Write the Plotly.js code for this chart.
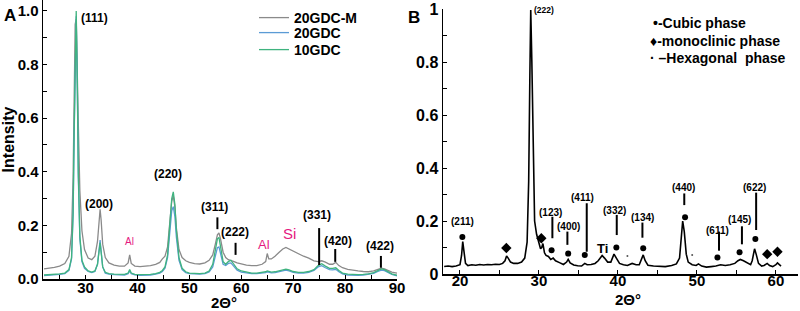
<!DOCTYPE html>
<html>
<head>
<meta charset="utf-8">
<script src="https://cdn.plot.ly/plotly-3.0.1.min.js"></script>
<style>html,body{margin:0;padding:0;background:#fff;}#chart{width:800px;height:311px;}</style>
</head>
<body>
<div id="chart"></div>
<script>
// ---------- Panel A data (2θ in degrees, normalised intensity) ----------
var twoThetaA = [22,23,24,25,26,26.8,27.3,27.6,27.8,28.0,28.2,28.4,28.6,28.9,29.3,29.8,30.5,31.2,31.8,32.3,32.6,32.8,33.0,33.3,33.8,34.5,35.5,36.5,37.5,38.2,38.5,38.8,39.5,40.5,41.5,42.5,43.5,44.3,44.8,45.3,45.8,46.3,46.6,46.9,47.2,47.5,48.0,48.6,49.3,50,51,52,53,53.8,54.5,55.0,55.4,55.7,56.0,56.5,57.0,57.5,58.0,58.5,59.2,60,61,62,63,64,64.7,65.0,65.3,65.8,66.5,67.3,68.0,68.6,69.2,70,71,72,73,74,74.8,75.5,76.2,77,77.6,78.2,78.8,79.5,80.5,81.5,82.5,83.5,84.5,85.5,86.3,87.0,87.6,88.3,89,90];

var gdc20M = [0.038,0.040,0.043,0.048,0.058,0.085,0.170,0.380,0.680,0.950,0.970,0.820,0.580,0.330,0.180,0.110,0.078,0.072,0.085,0.140,0.230,0.260,0.220,0.130,0.080,0.060,0.052,0.048,0.048,0.060,0.090,0.058,0.048,0.046,0.048,0.050,0.055,0.062,0.075,0.085,0.120,0.220,0.290,0.310,0.270,0.190,0.110,0.080,0.068,0.062,0.057,0.056,0.060,0.070,0.090,0.130,0.165,0.172,0.150,0.100,0.080,0.072,0.070,0.066,0.060,0.056,0.052,0.050,0.050,0.055,0.065,0.095,0.075,0.075,0.085,0.100,0.112,0.118,0.112,0.105,0.095,0.085,0.078,0.068,0.065,0.068,0.063,0.055,0.055,0.062,0.050,0.042,0.036,0.032,0.030,0.028,0.027,0.030,0.035,0.040,0.038,0.032,0.026,0.022];

var gdc20 = [0.013,0.014,0.015,0.017,0.020,0.032,0.075,0.240,0.530,0.860,0.980,0.730,0.380,0.150,0.065,0.040,0.028,0.024,0.028,0.055,0.120,0.145,0.105,0.045,0.022,0.018,0.016,0.015,0.015,0.020,0.030,0.020,0.015,0.014,0.014,0.015,0.018,0.022,0.028,0.040,0.080,0.190,0.255,0.270,0.235,0.155,0.070,0.035,0.024,0.020,0.018,0.018,0.020,0.026,0.045,0.090,0.117,0.120,0.095,0.055,0.050,0.058,0.060,0.050,0.033,0.026,0.022,0.020,0.020,0.021,0.024,0.027,0.025,0.023,0.024,0.027,0.031,0.033,0.030,0.025,0.022,0.022,0.025,0.032,0.045,0.050,0.042,0.035,0.034,0.036,0.027,0.019,0.015,0.014,0.014,0.015,0.017,0.021,0.028,0.033,0.031,0.024,0.017,0.012];

var gdc10 = [0.015,0.016,0.017,0.019,0.022,0.035,0.080,0.250,0.550,0.880,1.000,0.750,0.400,0.160,0.070,0.045,0.030,0.026,0.030,0.055,0.110,0.135,0.100,0.045,0.025,0.020,0.018,0.017,0.017,0.022,0.035,0.022,0.017,0.016,0.016,0.017,0.020,0.025,0.032,0.045,0.090,0.220,0.300,0.325,0.280,0.180,0.080,0.040,0.027,0.022,0.020,0.020,0.022,0.030,0.055,0.110,0.150,0.155,0.120,0.065,0.055,0.065,0.070,0.058,0.038,0.030,0.025,0.022,0.022,0.024,0.027,0.030,0.028,0.026,0.027,0.030,0.035,0.037,0.034,0.028,0.025,0.025,0.028,0.035,0.050,0.057,0.048,0.040,0.040,0.042,0.032,0.022,0.018,0.016,0.016,0.017,0.019,0.024,0.032,0.038,0.035,0.027,0.019,0.014];

var seriesNamesA = ["20GDC-M", "20GDC", "10GDC"];

// ---------- Panel B data ----------
var twoThetaB = [18.0,18.5,19.0,19.5,20.0,20.2,20.35,20.5,20.7,21.0,21.5,22.0,22.5,23.0,23.5,24.0,24.5,25.0,25.4,25.7,25.9,26.1,26.4,26.8,27.3,27.8,28.2,28.5,28.7,28.85,28.96,29.1,29.25,29.45,29.7,29.95,30.2,30.35,30.5,30.7,30.9,31.2,31.5,31.8,32.1,32.6,33.1,33.5,33.7,33.95,34.4,34.9,35.4,35.8,36.1,36.6,37.1,37.5,38.0,38.3,38.7,39.1,39.5,39.8,40.2,40.7,41.2,41.8,42.3,42.7,43.0,43.2,43.45,43.8,44.5,45.2,46.0,46.8,47.4,47.8,48.0,48.2,48.4,48.65,48.9,49.4,49.9,50.2,50.6,51.2,51.8,52.4,53.0,53.6,54.2,54.8,55.2,55.5,55.9,56.4,56.8,57.0,57.3,57.5,57.8,58.2,58.5,58.9,59.2,59.6,60.0,60.2,60.4,60.65];
var intensityB = [0.028,0.030,0.028,0.030,0.035,0.070,0.122,0.080,0.040,0.032,0.035,0.033,0.036,0.034,0.036,0.035,0.037,0.036,0.040,0.050,0.068,0.060,0.045,0.040,0.040,0.045,0.060,0.120,0.350,0.750,0.996,0.800,0.450,0.200,0.150,0.120,0.095,0.100,0.115,0.080,0.070,0.066,0.055,0.060,0.050,0.043,0.036,0.045,0.055,0.042,0.034,0.031,0.030,0.040,0.035,0.036,0.040,0.050,0.070,0.060,0.045,0.045,0.075,0.060,0.040,0.035,0.032,0.040,0.035,0.035,0.055,0.072,0.050,0.033,0.030,0.028,0.028,0.032,0.038,0.060,0.130,0.200,0.160,0.075,0.045,0.035,0.032,0.038,0.030,0.026,0.028,0.030,0.035,0.032,0.035,0.040,0.050,0.055,0.050,0.040,0.035,0.050,0.095,0.075,0.040,0.030,0.032,0.040,0.032,0.028,0.035,0.042,0.036,0.030];

// phase markers in panel B
var cubicX = [20.3,29.0,31.6,33.7,35.8,39.8,43.2,48.5,52.6,55.4,57.4];
var cubicY = [0.14,1.02,0.09,0.077,0.072,0.10,0.097,0.214,0.062,0.082,0.132];
var monoX = [25.87,30.3,58.9,60.2];
var monoY = [0.098,0.135,0.075,0.084];
var hexX = [41.2,49.4];
var hexY = [0.068,0.072];

// peak labels
var labelsA = ["(111)","(200)","(220)","(311)","(222)","(331)","(420)","(422)"];
var labelsAx = [31.7,32.6,45.8,54.8,58.7,74.6,78.7,86.7];
var labelsAy = [0.975,0.28,0.39,0.27,0.175,0.24,0.14,0.123];
var markA = [[55.4,0.186,0.23],[58.9,0.09,0.135],[75.0,0.052,0.19],[78.1,0.064,0.112],[86.9,0.042,0.086]];
var impA = [["Al",38.5,0.14,10],["Al",64.4,0.127,13],["Si",69.2,0.17,15]];

var labelsB = ["(211)","(222)","(123)","(400)","(411)","(332)","(134)","(440)","(611)","(145)","(622)"];
var labelsBx = [20.3,30.65,31.5,33.7,35.5,39.6,43.1,48.3,52.6,55.4,57.3];
var labelsBy = [0.197,0.996,0.233,0.178,0.288,0.239,0.215,0.327,0.163,0.204,0.326];
var markB = [[31.7,0.135,0.216],[33.6,0.11,0.16],[36.05,0.084,0.267],[39.85,0.147,0.223],[43.1,0.137,0.194],[48.4,0.26,0.304],[52.8,0.088,0.16],[55.7,0.112,0.18],[57.5,0.166,0.307]];

var FONT = "Liberation Sans, Arial, Helvetica, sans-serif";
var PINK = "#e5197f";
var COLORS_A = ["#8a8a8a", "#5b9bd5", "#3fb37f"];

// paper helpers (plot area: 43..798 px horizontally, 0..279 px vertically)
function px(p) { return (p - 43) / 755; }
function py(p) { return 1 - p / 279; }

var legendFont = {family: FONT, size: 14, color: "#000", weight: "bold"};
function legendBox(topPx) {
  return {x: px(254), y: py(topPx), xanchor: "left", yanchor: "top", bgcolor: "rgba(0,0,0,0)",
    borderwidth: 0, font: legendFont, tracegroupgap: 0};
}

var seriesA = [gdc20M, gdc20, gdc10];
var legendIds = ["legend", "legend2", "legend3"];
var traces = seriesA.map(function (ys, i) {
  return {x: twoThetaA, y: ys, name: seriesNamesA[i], type: "scatter", mode: "lines",
    line: {color: COLORS_A[i], width: 1.3}, xaxis: "x", yaxis: "y", legend: legendIds[i]};
});
traces.push(
  {x: twoThetaB, y: intensityB, name: "B", type: "scatter", mode: "lines", line: {color: "#000", width: 1.6}, xaxis: "x2", yaxis: "y2", showlegend: false},
  {x: cubicX, y: cubicY, type: "scatter", mode: "markers", marker: {symbol: "circle", size: 6, color: "#000"}, xaxis: "x2", yaxis: "y2", showlegend: false, cliponaxis: false},
  {x: monoX, y: monoY, type: "scatter", mode: "markers", marker: {symbol: "diamond", size: 8, color: "#000"}, xaxis: "x2", yaxis: "y2", showlegend: false, cliponaxis: false},
  {x: hexX, y: hexY, type: "scatter", mode: "markers", marker: {symbol: "circle", size: 2, color: "#555"}, xaxis: "x2", yaxis: "y2", showlegend: false}
);

var annotations = [];
var shapes = [];
function lab(text, x, y, xr, yr, size, color, bold) {
  annotations.push({text: text, x: x, y: y, xref: xr, yref: yr, showarrow: false,
    xanchor: "center", yanchor: "middle",
    font: {family: FONT, size: size, color: color || "#000", weight: bold === false ? "normal" : "bold"}});
}
labelsA.forEach(function (t, i) { lab(t, labelsAx[i], labelsAy[i], "x", "y", 12); });
impA.forEach(function (a) { lab(a[0], a[1], a[2], "x", "y", a[3], PINK, false); });
labelsB.forEach(function (t, i) { lab(t, labelsBx[i], labelsBy[i], "x2", "y2", i === 1 ? 8.5 : 10); });
lab("Ti", 38.1, 0.098, "x2", "y2", 13);
markA.forEach(function (m) { shapes.push({type: "line", xref: "x", yref: "y", x0: m[0], x1: m[0], y0: m[1], y1: m[2], line: {color: "#000", width: 2}}); });
markB.forEach(function (m) { shapes.push({type: "line", xref: "x2", yref: "y2", x0: m[0], x1: m[0], y0: m[1], y1: m[2], line: {color: "#000", width: 2}}); });

function plab(text, x, y, size, anchor, angle) {
  annotations.push({text: text, x: px(x), y: py(y), xref: "paper", yref: "paper", showarrow: false,
    xanchor: anchor || "center", yanchor: "middle", textangle: angle || 0,
    font: {family: FONT, size: size, color: "#000", weight: "bold"}});
}
plab("A", 10, 16, 17);
plab("B", 414, 18, 17);
plab("\u2022-Cubic phase", 651, 23, 14, "left");
plab("\u2666-monoclinic phase", 648, 41, 14, "left");
plab("\u00b7 \u2013Hexagonal  phase", 648, 58, 14, "left");
// x-axis titles
plab("2\u0398\u00b0", 224, 302, 15);
plab("2\u0398\u00b0", 628, 299, 15);

var tickFont = {family: FONT, size: 15, color: "#000", weight: "bold"};
var axisCommon = {showline: true, linecolor: "#000", linewidth: 1.5, ticks: "inside", ticklen: 4, tickwidth: 1, tickcolor: "#000",
  showgrid: false, zeroline: false, tickfont: tickFont};

var layout = {
  width: 800, height: 311,
  margin: {l: 43, r: 2, t: 0, b: 32},
  paper_bgcolor: "#fff", plot_bgcolor: "rgba(0,0,0,0)",
  font: {family: FONT},
  showlegend: true,
  legend: legendBox(2),
  legend2: legendBox(17),
  legend3: legendBox(34),
  xaxis: Object.assign({}, axisCommon, {domain: [0, px(397)], range: [21.8, 90], anchor: "y", dtick: 10, tick0: 0,
    ticklabelstandoff: -6,
    minor: {dtick: 5, ticks: "inside", ticklen: 4, tickcolor: "#000"}}),
  yaxis: Object.assign({}, axisCommon, {domain: [0, 1], range: [0, 1.041], anchor: "x", dtick: 0.2, tick0: 0, tickformat: ".1f",
    minor: {dtick: 0.1, ticks: "inside", ticklen: 4, tickcolor: "#000"},
    title: {text: "Intensity", font: {family: FONT, size: 16, color: "#000", weight: "bold"}, standoff: 2}}),
  xaxis2: Object.assign({}, axisCommon, {domain: [px(443), 1], range: [17.85, 62.8], anchor: "y2", dtick: 10, tick0: 0,
    ticklabelstandoff: -8,
    minor: {dtick: 5, ticks: "inside", ticklen: 4, tickcolor: "#000"}}),
  yaxis2: Object.assign({}, axisCommon, {domain: [py(274), py(9)], range: [0, 1.0], anchor: "x2", dtick: 0.2, tick0: 0,
    tickfont: {family: FONT, size: 16, color: "#000", weight: "bold"},
    minor: {dtick: 0.1, ticks: "inside", ticklen: 4, tickcolor: "#000"}}),
  annotations: annotations,
  shapes: shapes
};

Plotly.newPlot("chart", traces, layout, {staticPlot: true, displayModeBar: false});
</script>
</body>
</html>
